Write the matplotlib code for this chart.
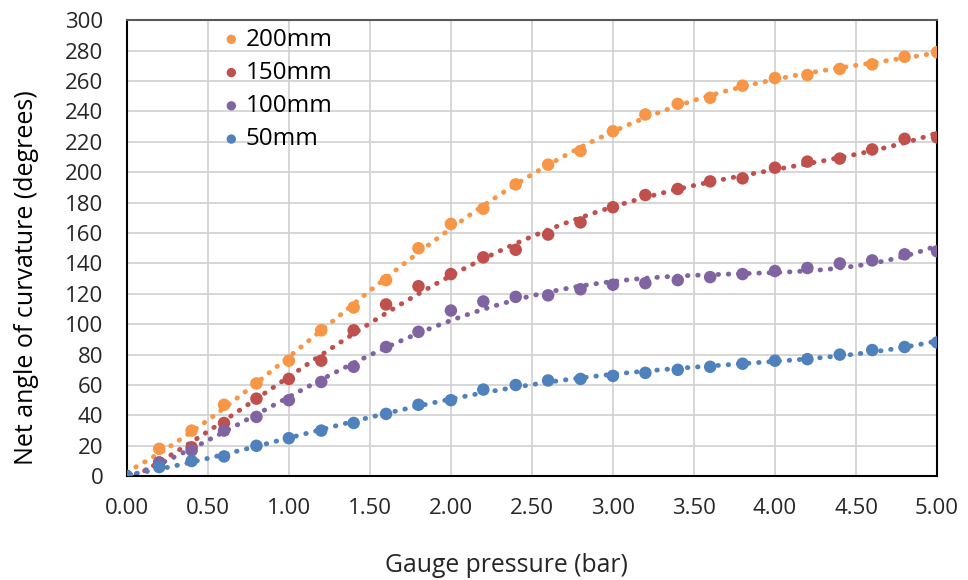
import numpy as np
import matplotlib
matplotlib.use('Agg')
from matplotlib import pyplot as plt

plt.rcParams['font.family'] = ['Open Sans', 'DejaVu Sans']

# gauge pressure (bar)
pressure = [0.0, 0.2, 0.4, 0.6, 0.8, 1.0, 1.2, 1.4, 1.6, 1.8, 2.0, 2.2, 2.4,
            2.6, 2.8, 3.0, 3.2, 3.4, 3.6, 3.8, 4.0, 4.2, 4.4, 4.6, 4.8, 5.0]

# net angle of curvature (degrees)
angle_200 = [0, 18, 30, 47, 61, 76, 96, 111, 129, 150, 166, 176, 192,
             205, 214, 227, 238, 245, 249, 257, 262, 264, 268, 271, 276, 279]
angle_150 = [0, 9, 19, 35, 51, 64, 76, 96, 113, 125, 133, 144, 149,
             159, 167, 177, 185, 189, 194, 196, 203, 207, 209, 215, 222, 223]
angle_100 = [0, 9, 17, 30, 39, 50, 62, 72, 85, 95, 109, 115, 118,
             119, 123, 126, 127, 129, 131, 133, 135, 137, 140, 142, 146, 148]
angle_50 = [0, 6, 10, 13, 20, 25, 30, 35, 41, 47, 50, 57, 60,
            63, 64, 66, 68, 70, 72, 74, 76, 77, 80, 83, 85, 88]

labels = ['200mm', '150mm', '100mm', '50mm']
colors = ['#F79646', '#C0504D', '#8064A2', '#4F81BD']
series = [angle_200, angle_150, angle_100, angle_50]

fig = plt.figure(figsize=(9.68, 5.8), dpi=100)
ax = fig.add_axes([0.131, 0.179, 0.837, 0.786])

x = np.array(pressure)
x_fit = np.linspace(0, 5, 200)

for y, c, lab in zip(series, colors, labels):
    # polynomial trendline, as in the spreadsheet
    p = np.polyfit(x, y, 4)
    ax.plot(x_fit, np.polyval(p, x_fit), color=c,
            linewidth=3.5, linestyle=(0, (0.1, 2.0)),
            dash_capstyle='round', zorder=2)
    ax.scatter(x, y, s=81, color=c, label=lab, zorder=3,
               edgecolors='none')

ax.set_xlim(0, 5)
ax.set_ylim(0, 300)
ax.set_xticks(np.arange(0, 5.01, 0.5))
ax.set_xticklabels(['%0.2f' % v for v in np.arange(0, 5.01, 0.5)])
ax.set_yticks(np.arange(0, 301, 20))
ax.tick_params(length=0, labelsize=16, colors='#262626')
ax.tick_params(axis='x', pad=16)
ax.tick_params(axis='y', pad=17)
ax.grid(True, color='#d0d0d0', linewidth=1.2)
ax.set_axisbelow(True)

for s in ['left', 'bottom', 'right']:
    ax.spines[s].set_color('black')
    ax.spines[s].set_linewidth(1.5)
ax.spines['top'].set_color('#595959')
ax.spines['top'].set_linewidth(1.5)

ax.set_xlabel('Gauge pressure (bar)', fontsize=17.8, color='#262626')
ax.set_ylabel('Net angle of curvature (degrees)', fontsize=18, color='black')
ax.xaxis.set_label_coords(0.469, -0.169)
ax.yaxis.set_label_coords(-0.108, 0.436)

ax.legend(loc='upper left', bbox_to_anchor=(0.102, 1.005), frameon=False,
          fontsize=17.5, handletextpad=0.1, labelspacing=0.38,
          markerscale=0.75, borderaxespad=0, handlelength=1.0)

fig.savefig('out.png', dpi=100)
